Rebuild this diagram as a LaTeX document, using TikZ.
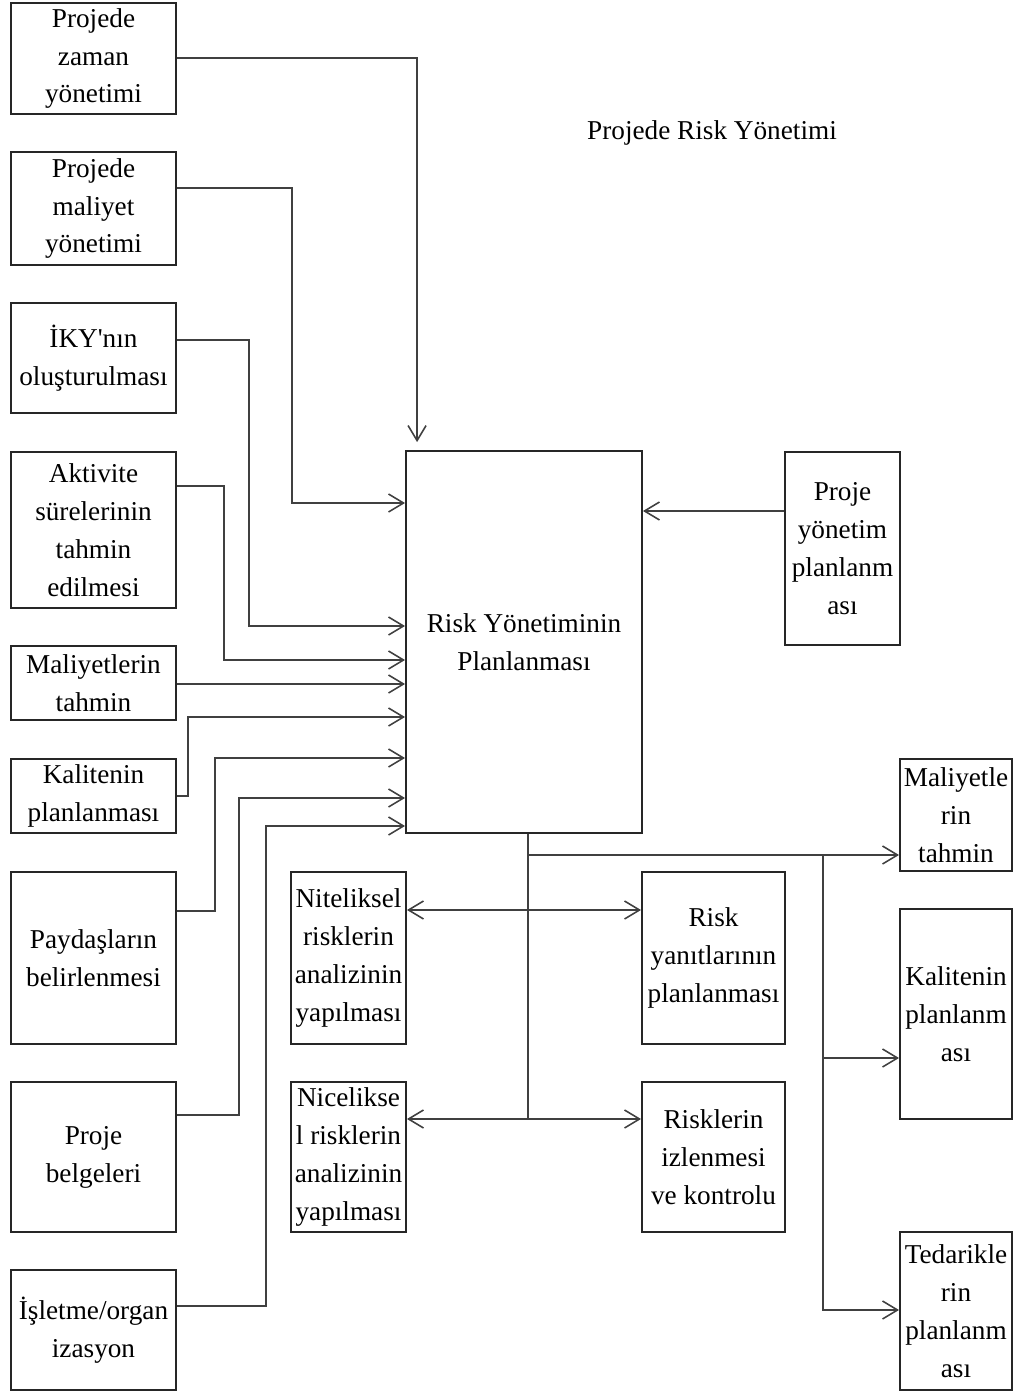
\documentclass[tikz,border=0pt]{standalone}
\usepackage{fontspec}
\setmainfont{Liberation Serif}
\usetikzlibrary{arrows.meta,calc}

\begin{document}
\begin{tikzpicture}[
x=0.02cm, y=-0.02cm,
box/.style={draw=black!85, line width=1.1pt, align=center, inner sep=0pt, font=\fontsize{15.5}{21.6}\selectfont},
lbox/.style={box, minimum width=3.3cm},
link/.style={draw=black!75, line width=0.9pt},
>={Straight Barb[length=3mm,width=3.6mm]}
]
\useasboundingbox (0,0) rectangle (1014,1394);
%Nodes
\node[lbox, minimum height=2.22cm] (zaman)     at (93.5,58.5)  {Projede\\zaman\\yönetimi};
\node[lbox, minimum height=2.26cm] (maliyet)   at (93.5,208.5) {Projede\\maliyet\\yönetimi};
\node[lbox, minimum height=2.2cm]  (iky)       at (93.5,358)   {İKY\textquotesingle{}nın\\oluşturulması};
\node[lbox, minimum height=3.12cm] (aktivite)  at (93.5,530)   {Aktivite\\sürelerinin\\tahmin\\edilmesi};
\node[lbox, minimum height=1.48cm] (maltahmin) at (93.5,683)   {Maliyetlerin\\tahmin};
\node[lbox, minimum height=1.48cm] (kalite)    at (93.5,796)   {Kalitenin\\planlanması};
\node[lbox, minimum height=3.44cm] (paydas)    at (93.5,958)   {Paydaşların\\belirlenmesi};
\node[lbox, minimum height=3cm]    (belge)     at (93.5,1157)  {Proje\\belgeleri};
\node[lbox, minimum height=2.4cm]  (isletme)   at (93.5,1330)  {İşletme/organ\\izasyon};

\node[box, minimum width=4.72cm, minimum height=7.64cm] (main) at (524,642) {Risk Yönetiminin\\Planlanması};
\node[box, minimum width=2.3cm, minimum height=3.86cm]  (pyp)  at (842.5,548.5) {Proje\\yönetim\\planlanm\\ası};
\node[font=\fontsize{15.5}{21.6}\selectfont] (title) at (712,133) {Projede Risk Yönetimi};

\node[box, minimum width=2.3cm, minimum height=3.44cm]  (nitel)  at (348.5,958)  {Niteliksel\\risklerin\\analizinin\\yapılması};
\node[box, minimum width=2.3cm, minimum height=3cm]     (nicel)  at (348.5,1157) {Nicelikse\\l risklerin\\analizinin\\yapılması};
\node[box, minimum width=2.86cm, minimum height=3.44cm] (yanit)  at (713.5,958)  {Risk\\yanıtlarının\\planlanması};
\node[box, minimum width=2.86cm, minimum height=3cm]    (izleme) at (713.5,1157) {Risklerin\\izlenmesi\\ve kontrolu};

\node[box, minimum width=2.24cm, minimum height=2.24cm] (rmal) at (956,815)  {Maliyetle\\rin\\tahmin};
\node[box, minimum width=2.24cm, minimum height=4.2cm]  (rkal) at (956,1014) {Kalitenin\\planlanm\\ası};
\node[box, minimum width=2.24cm, minimum height=3.16cm] (rted) at (956,1311) {Tedarikle\\rin\\planlanm\\ası};

\coordinate (t1) at (528,855);
\coordinate (t2) at (528,1119);
\coordinate (b1) at (823,855);

%Lines
\draw[link,->] (zaman.east |- 0,58) -| ($(main.north west)+(12,-8)$);
\draw[link,->] (maliyet.east |- 0,188) -| (292,503) -- (main.west |- 0,503);
\draw[link,->] (iky.east |- 0,340) -| (249,626) -- (main.west |- 0,626);
\draw[link,->] (aktivite.east |- 0,486) -| (224,660) -- (main.west |- 0,660);
\draw[link,->] (maltahmin.east |- 0,684) -- (main.west |- 0,684);
\draw[link,->] (kalite.east |- 0,796) -| (188,717) -- (main.west |- 0,717);
\draw[link,->] (paydas.east |- 0,911) -| (215,758) -- (main.west |- 0,758);
\draw[link,->] (belge.east |- 0,1115) -| (239,798) -- (main.west |- 0,798);
\draw[link,->] (isletme.east |- 0,1306) -| (266,826) -- (main.west |- 0,826);
\draw[link,->] (pyp.west |- 0,511) -- (main.east |- 0,511);

\draw[link] (main.south -| t1) -- (t2);
\draw[link,->] (t1) -- (rmal.west |- t1);
\draw[link,<->] (nitel.east |- 0,910) -- (yanit.west |- 0,910);
\draw[link,<->] (nicel.east |- t2) -- (izleme.west |- t2);
\draw[link,->] (b1) |- (rted.west |- 0,1310);
\draw[link,->] (b1 |- 0,1058) -- (rkal.west |- 0,1058);
\end{tikzpicture}
\end{document}
